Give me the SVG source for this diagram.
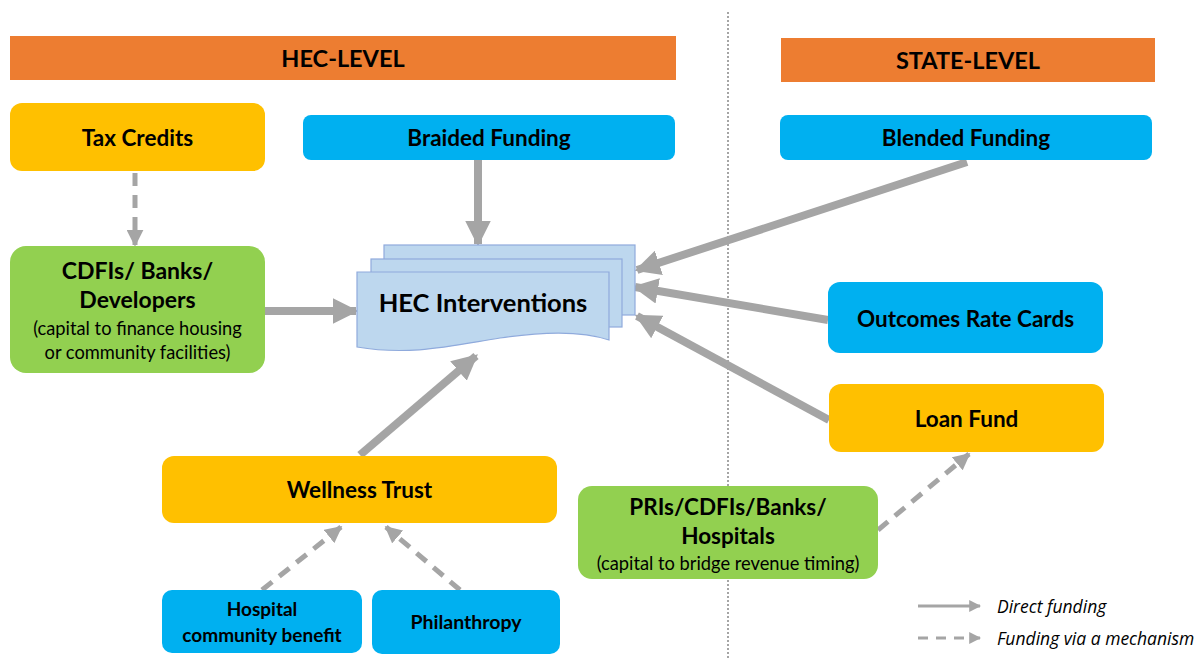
<svg xmlns="http://www.w3.org/2000/svg" width="1204" height="660" viewBox="0 0 1204 660">
<defs>
<style>
.t{font-family:Lato,"Open Sans","Liberation Sans",sans-serif;font-weight:bold;fill:#000;text-anchor:middle}
.s{font-family:Lato,"Open Sans","Liberation Sans",sans-serif;font-weight:normal;fill:#000;text-anchor:middle}
.lg{font-family:"Open Sans","Liberation Sans",sans-serif;font-style:italic;font-size:17.5px;fill:#000}
.hdr{fill:#ED7D31}
.blue{fill:#00B0F0}
.yel{fill:#FFC000}
.grn{fill:#92D050}
.doc{fill:#BDD7EE;stroke:#8FAADC;stroke-width:1.2}
.solid{stroke:#A5A5A5;stroke-width:8;fill:none;marker-end:url(#ah)}
.dash{stroke:#A5A5A5;stroke-width:5;fill:none;stroke-dasharray:13 9;marker-end:url(#ahd)}
</style>
<marker id="ah" viewBox="0 0 10 10" refX="9" refY="5" markerWidth="3.2" markerHeight="3.2" orient="auto"><path d="M0,0 L10,5 L0,10 Z" fill="#A5A5A5"/></marker>
<marker id="ahd" viewBox="0 0 10 10" refX="9" refY="5" markerWidth="3.4" markerHeight="3.4" orient="auto"><path d="M0,0 L10,5 L0,10 Z" fill="#A5A5A5"/></marker>
<marker id="ahl" viewBox="0 0 10 10" refX="9" refY="5" markerWidth="4" markerHeight="4" orient="auto"><path d="M0,0 L10,5 L0,10 Z" fill="#A5A5A5"/></marker>
</defs>
<rect width="1204" height="660" fill="#fff"/>
<line x1="728" y1="12" x2="728" y2="660" stroke="#888" stroke-width="1.5" stroke-dasharray="2 2"/>

<g id="hec-level"><rect class="hdr" x="10" y="36" width="666" height="44"/><text class="t" x="343" y="67" font-size="23.5">HEC-LEVEL</text></g>
<g id="state-level"><rect class="hdr" x="781" y="38" width="374" height="44"/><text class="t" x="968" y="69" font-size="23.5">STATE-LEVEL</text></g>

<g id="connectors">
<line class="solid" x1="478" y1="160" x2="478" y2="244"/>
<line class="solid" x1="265" y1="311" x2="356" y2="311"/>
<line class="solid" x1="967" y1="162" x2="637" y2="270"/>
<line class="solid" x1="828" y1="320" x2="635" y2="287"/>
<line class="solid" x1="829" y1="420" x2="637" y2="316"/>
<line class="solid" x1="360" y1="455" x2="476" y2="356"/>
<line class="dash" x1="135" y1="173" x2="135" y2="245"/>
<line class="dash" x1="262" y1="590" x2="341" y2="527"/>
<line class="dash" x1="460" y1="590" x2="386" y2="527"/>
<line class="dash" x1="878" y1="530" x2="969" y2="454"/>
</g>

<g id="tax-credits"><rect class="yel" x="10" y="103" width="255" height="68" rx="12"/><text class="t" x="137.5" y="146" font-size="22.5">Tax Credits</text></g>
<g id="braided-funding"><rect class="blue" x="303" y="115" width="372" height="45" rx="8"/><text class="t" x="489" y="146" font-size="22.5">Braided Funding</text></g>
<g id="blended-funding"><rect class="blue" x="780" y="115" width="372" height="45" rx="8"/><text class="t" x="966" y="146" font-size="22.5">Blended Funding</text></g>

<g id="cdfis"><rect class="grn" x="10" y="246" width="255" height="127" rx="16"/>
<text class="t" x="137.5" y="279" font-size="23">CDFIs/ Banks/</text>
<text class="t" x="137.5" y="308" font-size="23">Developers</text>
<text class="s" x="137.5" y="335" font-size="18.3">(capital to finance housing</text>
<text class="s" x="137.5" y="359" font-size="18.3">or community facilities)</text></g>

<g id="hec-interventions">
<rect class="doc" x="384" y="245" width="251" height="70"/>
<rect class="doc" x="371" y="259" width="251" height="68"/>
<path class="doc" d="M357,272 H609 V340 C580,330 540,332 500,338 C450,346 410,356 357,347 Z"/>
<text class="t" x="483" y="312" font-size="25.5">HEC Interventions</text></g>

<g id="outcomes-rate-cards"><rect class="blue" x="828" y="282" width="275" height="71" rx="12"/><text class="t" x="965.5" y="327" font-size="22.5">Outcomes Rate Cards</text></g>
<g id="loan-fund"><rect class="yel" x="829" y="384" width="275" height="68" rx="12"/><text class="t" x="966.5" y="427" font-size="22.5">Loan Fund</text></g>
<g id="wellness-trust"><rect class="yel" x="162" y="456" width="395" height="67" rx="12"/><text class="t" x="359.5" y="498" font-size="22.5">Wellness Trust</text></g>

<g id="pris"><rect class="grn" x="578" y="486" width="300" height="93" rx="14"/>
<text class="t" x="728" y="515" font-size="22.5">PRIs/CDFIs/Banks/</text>
<text class="t" x="728" y="544" font-size="22.5">Hospitals</text>
<text class="s" x="728" y="570" font-size="18.3">(capital to bridge revenue timing)</text></g>

<g id="hospital-cb"><rect class="blue" x="162" y="590" width="200" height="63" rx="10"/>
<text class="t" x="262" y="616" font-size="19">Hospital</text>
<text class="t" x="262" y="642" font-size="19">community benefit</text></g>
<g id="philanthropy"><rect class="blue" x="372" y="590" width="188" height="64" rx="10"/>
<text class="t" x="466" y="629" font-size="19.5">Philanthropy</text></g>

<g id="legend">
<line x1="918" y1="606" x2="980" y2="606" stroke="#A5A5A5" stroke-width="3" marker-end="url(#ahl)"/>
<line x1="918" y1="638" x2="980" y2="638" stroke="#A5A5A5" stroke-width="3" stroke-dasharray="10 8" marker-end="url(#ahl)"/>
<text class="lg" x="997" y="613">Direct funding</text>
<text class="lg" x="997" y="645">Funding via a mechanism</text>
</g>
</svg>
